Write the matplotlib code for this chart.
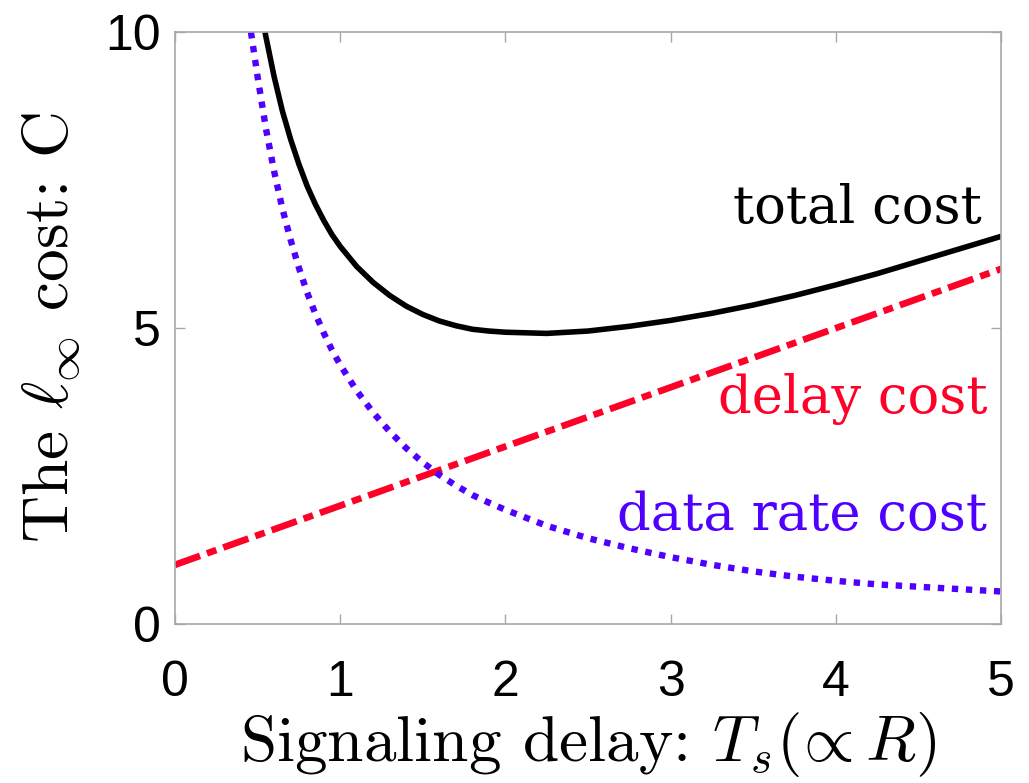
import matplotlib
matplotlib.use("Agg")
import matplotlib.pyplot as plt

plt.rcParams['mathtext.fontset'] = 'cm'
plt.rcParams['axes.unicode_minus'] = False

# Data
delay_x = [0.0, 5.0]
delay_y = [1.0, 6.0]

rate_x = [0.46, 0.50, 0.55, 0.60, 0.65, 0.70, 0.75, 0.80, 0.85, 0.90, 0.95, 1.00,
          1.10, 1.20, 1.30, 1.40, 1.50, 1.60, 1.70, 1.80, 1.90, 2.00, 2.25, 2.50,
          2.75, 3.00, 3.25, 3.50, 3.75, 4.00, 4.25, 4.50, 4.75, 5.00]
rate_y = [10.0, 9.25, 8.38, 7.65, 7.02, 6.49, 6.02, 5.60, 5.24, 4.92, 4.63, 4.38,
          3.94, 3.57, 3.25, 2.97, 2.73, 2.52, 2.34, 2.18, 2.05, 1.93, 1.66, 1.45,
          1.28, 1.13, 1.00, 0.89, 0.80, 0.73, 0.67, 0.63, 0.59, 0.55]

total_x = [0.545, 0.55, 0.60, 0.65, 0.70, 0.75, 0.80, 0.85, 0.90, 0.95, 1.00,
           1.10, 1.20, 1.30, 1.40, 1.50, 1.60, 1.70, 1.80, 1.90, 2.00, 2.25, 2.50,
           2.75, 3.00, 3.25, 3.50, 3.75, 4.00, 4.25, 4.50, 4.75, 5.00]
total_y = [10.0, 9.93, 9.25, 8.67, 8.19, 7.77, 7.40, 7.09, 6.82, 6.58, 6.38,
           6.04, 5.77, 5.55, 5.37, 5.23, 5.12, 5.04, 4.98, 4.95, 4.93, 4.91, 4.95,
           5.03, 5.13, 5.25, 5.39, 5.55, 5.73, 5.92, 6.13, 6.34, 6.55]

x_ticks = [0, 1, 2, 3, 4, 5]
y_ticks = [0, 5, 10]

RED = '#ff0028'
BLUE = '#5000ff'

fig = plt.figure(figsize=(10.29, 7.83), dpi=100)
ax = fig.add_axes([0.170, 0.203, 0.803, 0.756])

ax.plot(total_x, total_y, color='black', lw=4.0, solid_capstyle='butt',
        solid_joinstyle='round')
ax.plot(delay_x, delay_y, color=RED, lw=4.8, linestyle=(0, (4.0, 1.1, 1.5, 1.1)))
ax.plot(rate_x, rate_y, color=BLUE, lw=4.6, linestyle=(0, (1.0, 1.2)))

ax.set_xlim(0, 5)
ax.set_ylim(0, 10)
ax.set_xticks(x_ticks)
ax.set_yticks(y_ticks)

for s in ax.spines.values():
    s.set_color('#a8a8a8')
    s.set_linewidth(1.2)
ax.tick_params(direction='in', length=7, width=1, color='#a8a8a8',
               top=True, right=True, labelsize=36, pad=26)
for lab in ax.get_xticklabels() + ax.get_yticklabels():
    lab.set_family('Liberation Sans')
ax.tick_params(axis='y', pad=10)

ax.set_xlabel(r'Signaling delay: $T_s(\!\propto R)$', fontsize=47, family='cmr10',
              labelpad=3)
ax.set_ylabel(r'The $\ell_\infty$ cost: C', fontsize=47, family='cmr10', labelpad=16)

tk = dict(fontsize=38, family='DejaVu Serif', ha='right', va='baseline')
ax.text(4.885, 6.77, 'total cost', color='black', **tk)
ax.text(4.915, 3.56, 'delay cost', color=RED, **tk)
ax.text(4.915, 1.59, 'data rate cost', color=BLUE, **tk)

fig.savefig('out.png', dpi=100)
